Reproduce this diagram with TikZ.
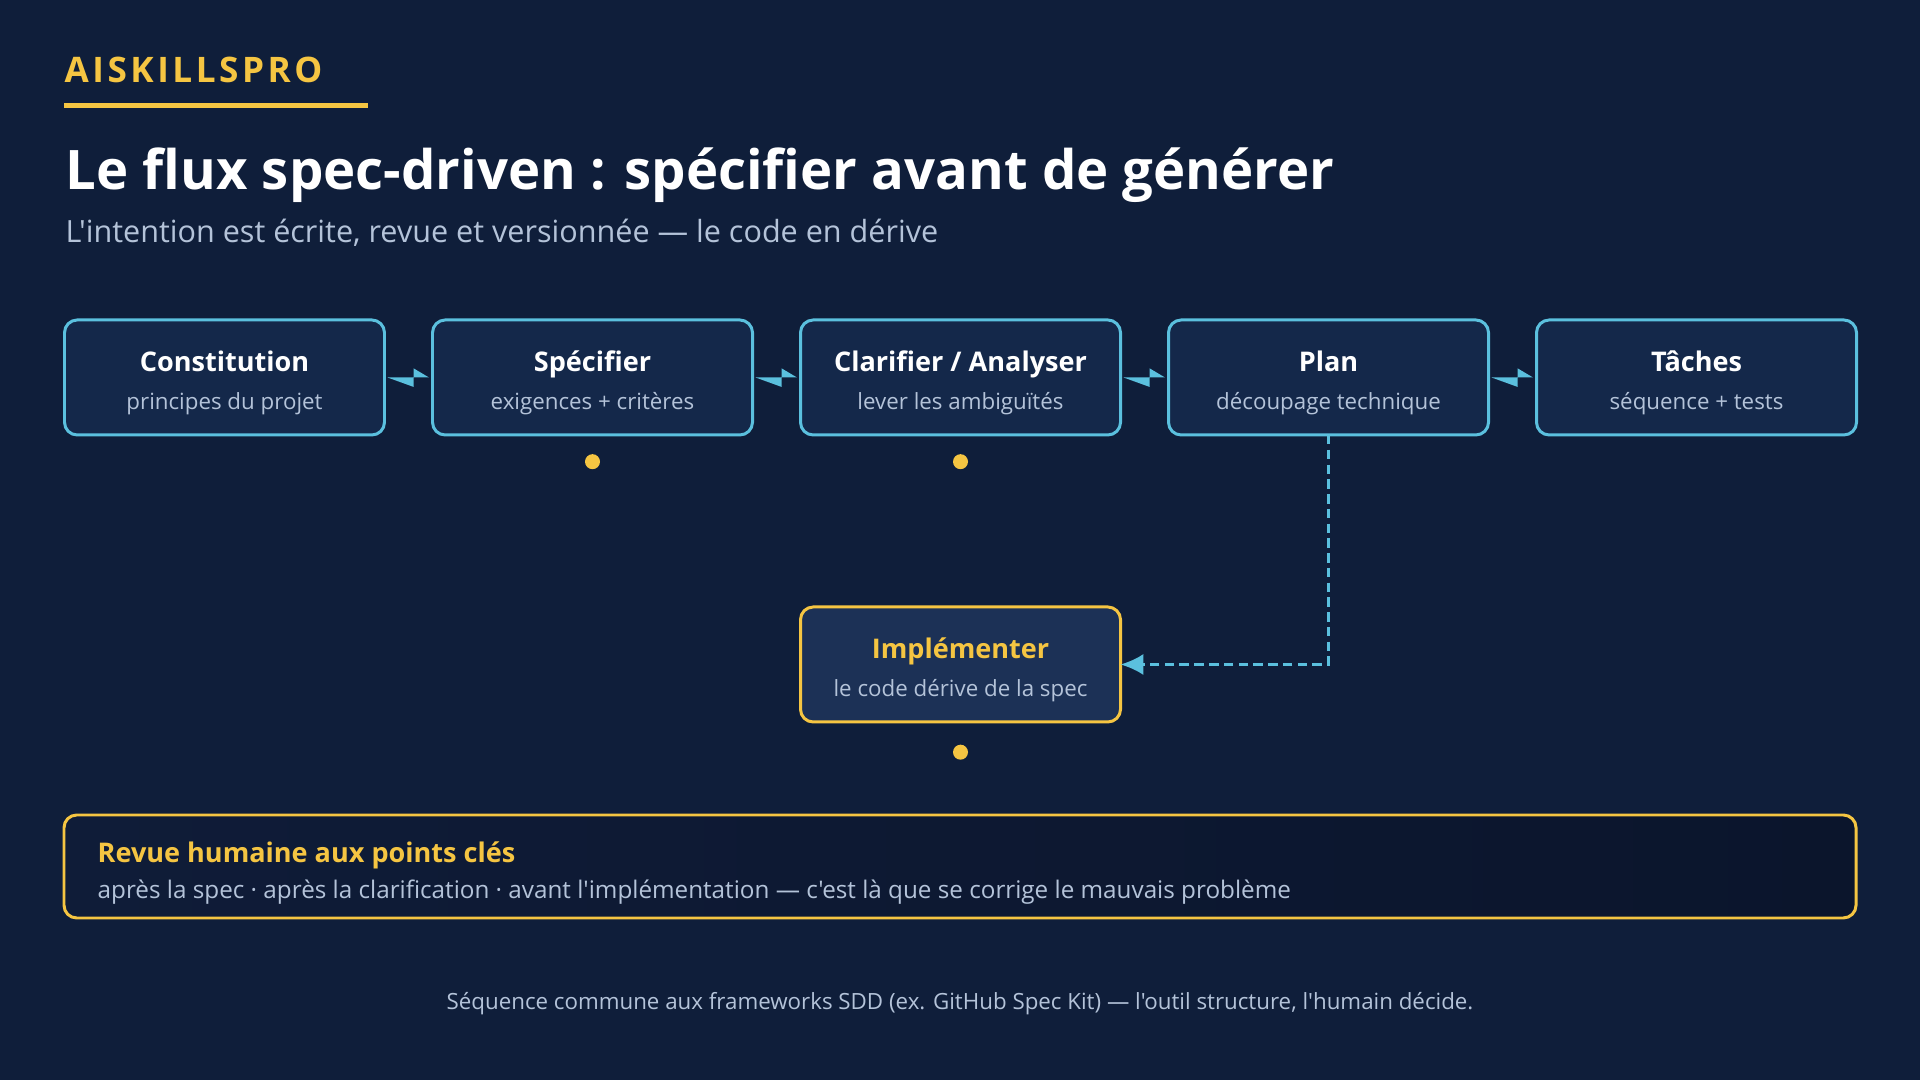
\documentclass[tikz,border=0pt]{standalone}
\usepackage{fontspec}
\setmainfont{Open Sans}[Ligatures=TeXOff]
\usetikzlibrary{positioning,arrows.meta,calc}
\definecolor{bgnavy}{HTML}{0F1E3A}
\definecolor{boxnavy}{HTML}{14284A}
\definecolor{implnavy}{HTML}{1C3156}
\definecolor{revleft}{HTML}{0F1C38}
\definecolor{revright}{HTML}{0B152C}
\definecolor{skycyan}{HTML}{5BC0DE}
\definecolor{gold}{HTML}{F5C542}
\definecolor{mist}{HTML}{B4C3D9}
\begin{document}
\begin{tikzpicture}[
    stepbox/.style={draw=skycyan,line width=0.85pt,fill=boxnavy,rounded corners=3.6pt,
      minimum width=3.2cm,minimum height=1.15cm,outer sep=0pt},
    steptitle/.style={anchor=base,font=\fontsize{7.7}{9}\selectfont\bfseries,text=white},
    stepsub/.style={anchor=base,font=\fontsize{6.35}{7}\selectfont,text=mist},
    link/.style={fill=skycyan},
    flow/.style={skycyan,line width=0.85pt,dash pattern=on 2.7pt off 1.5pt,-{Latex[length=6.5pt,width=6pt]}},
    checkdot/.style={circle,fill=gold,inner sep=0pt,minimum size=0.15cm}
  ]
  \fill[bgnavy] (0,0) rectangle (19.2,10.8);
  % header
  \node[anchor=base west,font=\fontsize{10}{11}\selectfont\bfseries\addfontfeature{LetterSpace=10},text=gold,inner sep=0pt] (brand) at (0.64,9.97) {AISKILLSPRO};
  \draw[gold,line width=1.4pt] (0.64,9.745) -- (3.68,9.745);
  \node[anchor=base west,font=\fontsize{15.5}{17}\selectfont\bfseries,text=white,inner sep=0pt] (title) at (0.65,8.90) {Le flux spec-driven : spécifier avant de générer};
  \node[anchor=base west,font=\fontsize{8.7}{10}\selectfont,text=mist,inner sep=0pt] (subtitle) at (0.65,8.37) {L'intention est écrite, revue et versionnée — le code en dérive};
  % steps
  \node[stepbox] (c1) at (2.245,7.025) {};
  \node[stepbox,right=0.48cm of c1] (c2) {};
  \node[stepbox,right=0.48cm of c2] (c3) {};
  \node[stepbox,right=0.48cm of c3] (c4) {};
  \node[stepbox,right=0.48cm of c4] (c5) {};
  \node[steptitle] at ([yshift=0.06cm]c1.center) {Constitution};
  \node[stepsub] at ([yshift=-0.32cm]c1.center) {principes du projet};
  \node[steptitle] at ([yshift=0.06cm]c2.center) {Spécifier};
  \node[stepsub] at ([yshift=-0.32cm]c2.center) {exigences + critères};
  \node[steptitle] at ([yshift=0.06cm]c3.center) {Clarifier / Analyser};
  \node[stepsub] at ([yshift=-0.32cm]c3.center) {lever les ambiguïtés};
  \node[steptitle] at ([yshift=0.06cm]c4.center) {Plan};
  \node[stepsub] at ([yshift=-0.32cm]c4.center) {découpage technique};
  \node[steptitle] at ([yshift=0.06cm]c5.center) {Tâches};
  \node[stepsub] at ([yshift=-0.32cm]c5.center) {séquence + tests};
  % split arrowheads between steps
  \foreach \a/\b in {c1/c2,c2/c3,c3/c4,c4/c5}
    \fill[link] ($(\a.east)+(0.03,0)$) -- ($(\b.west)+(-0.19,0)$) -- ++(0,-0.094) -- cycle
      ($(\b.west)+(-0.19,0)$) -- ++(0,0.092) -- ($(\b.west)+(-0.035,0)$) -- cycle;
  % implementation
  \node[stepbox,draw=gold,fill=implnavy,below=1.72cm of c3] (impl) {};
  \node[steptitle,text=gold] at ([yshift=0.055cm]impl.center) {Implémenter};
  \node[stepsub] at ([yshift=-0.325cm]impl.center) {le code dérive de la spec};
  \draw[flow] (c4.south) |- (impl.east);
  % review points
  \node[checkdot,below=0.185cm of c2] (d1) {};
  \node[checkdot,below=0.185cm of c3] (d2) {};
  \node[checkdot,below=0.22cm of impl] (d3) {};
  % review box
  \node[draw=gold,line width=0.85pt,left color=revleft,right color=revright,rounded corners=3.6pt,minimum width=17.92cm,minimum height=1.03cm] (review) at (9.6,2.135) {};
  \node[anchor=base west,font=\fontsize{7.7}{9}\selectfont\bfseries,text=gold,inner sep=0pt] at (0.97,2.17) {Revue humaine aux points clés};
  \node[anchor=base west,font=\fontsize{6.9}{8}\selectfont,text=mist,inner sep=0pt] at (0.97,1.81) {après la spec · après la clarification · avant l'implémentation — c'est là que se corrige le mauvais problème};
  % footer
  \node[anchor=base,font=\fontsize{6.35}{7}\selectfont,text=mist,inner sep=0pt] (footer) at (9.6,0.70) {Séquence commune aux frameworks SDD (ex. GitHub Spec Kit) — l'outil structure, l'humain décide.};
\end{tikzpicture}
\end{document}
